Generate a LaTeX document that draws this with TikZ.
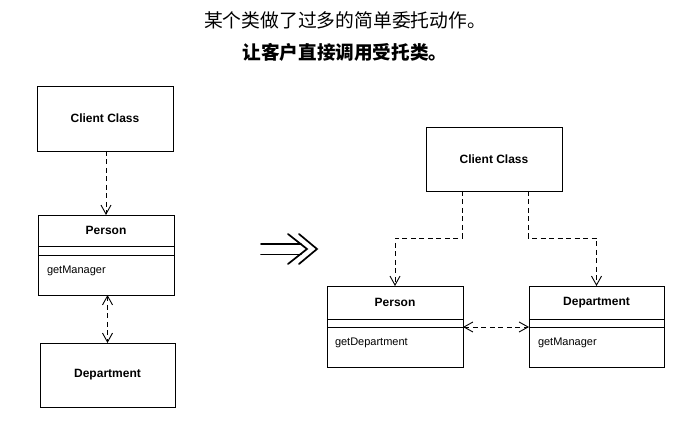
\documentclass[tikz,border=0pt]{standalone}
\usepackage{fontspec}
\setmainfont{Liberation Sans}
\newfontfamily\cjk{Noto Sans CJK SC}
\usetikzlibrary{arrows.meta,positioning,calc}
\tikzset{Bv/.tip={Straight Barb[length=9pt,width=10pt,line width=0.9pt]}}
\begin{document}
\begin{tikzpicture}[x=1pt,y=-1pt,
  every node/.style={outer sep=0pt},
  cls/.style={draw, line width=0.9pt, inner sep=0pt, minimum width=136pt,
    font=\bfseries\fontsize{12}{14}\selectfont},
  comp/.style={draw, line width=0.9pt, inner sep=0pt, minimum width=136pt},
  meth/.style={anchor=west, inner sep=0pt, font=\fontsize{11}{13}\selectfont},
  dep/.style={draw, line width=0.8pt, dash pattern=on 5pt off 3.5pt},
  title/.style={font=\cjk\fontsize{18.8}{21}\selectfont}
]
\useasboundingbox (0,0) rectangle (691,427);

% titles
\node[title] (t1) at (345,20) {某个类做了过多的简单委托动作。};
\node[title, font=\cjk\bfseries\fontsize{18.6}{21}\selectfont] (t2) at (345,52) {让客户直接调用受托类。};

% ---- left diagram ----
\node[cls, minimum height=65pt] (lc) at (105,118.5) {Client Class};
\node[cls, minimum height=31pt] (lpn) at (106,230.5) {Person};
\node[comp, minimum height=9pt, below=0pt of lpn] (lpa) {};
\node[comp, minimum height=40pt, below=0pt of lpa] (lpm) {};
\node[meth] (lpt) at ([xshift=9pt,yshift=-16pt]lpm.north west) {getManager};
\node[cls, minimum width=135pt, minimum height=64pt] (ld) at (107.5,375) {Department};

\draw[dep, -Bv] (lpn.north |- lc.south) -- (lpn.north);
\draw[dep, Bv-Bv] (ld.north |- lpm.south) -- (ld.north);

% ---- implies arrow ----
\begin{scope}[line width=1.7pt, line cap=round, line join=miter]
  \draw (261,244) -- (301,244);
  \draw (261,254.5) -- (301,254.5);
  \draw (288,234) -- (307,249) -- (288,264);
  \draw (299,234) -- (317,249) -- (299,264);
\end{scope}

% ---- right diagram ----
\node[cls, minimum height=64pt] (rc) at (494,159) {Client Class};
\node[cls, minimum height=33pt] (rpn) at (395,302.5) {Person};
\node[comp, minimum height=8pt, below=0pt of rpn] (rpa) {};
\node[comp, minimum height=40pt, below=0pt of rpa] (rpm) {};
\node[meth] (rpt) at ([xshift=8pt,yshift=-16pt]rpm.north west) {getDepartment};

\node[cls, minimum width=135pt, minimum height=33pt] (rdn) at (596.5,302.5) {Department};
\node[comp, minimum width=135pt, minimum height=8pt, below=0pt of rdn] (rda) {};
\node[comp, minimum width=135pt, minimum height=40pt, below=0pt of rda] (rdm) {};
\node[meth] (rdt) at ([xshift=9pt,yshift=-16pt]rdm.north west) {getManager};

\coordinate (cl) at ([xshift=-32pt]rc.south);
\coordinate (cr) at ([xshift=34pt]rc.south);
\draw[dep, -Bv] (cl) -- ++(0,47) -| (rpn.north);
\draw[dep, -Bv] (cr) -- ++(0,47) -| (rdn.north);
\draw[dep, Bv-Bv] (rpm.north east) -- (rdm.north west);
\end{tikzpicture}
\end{document}
